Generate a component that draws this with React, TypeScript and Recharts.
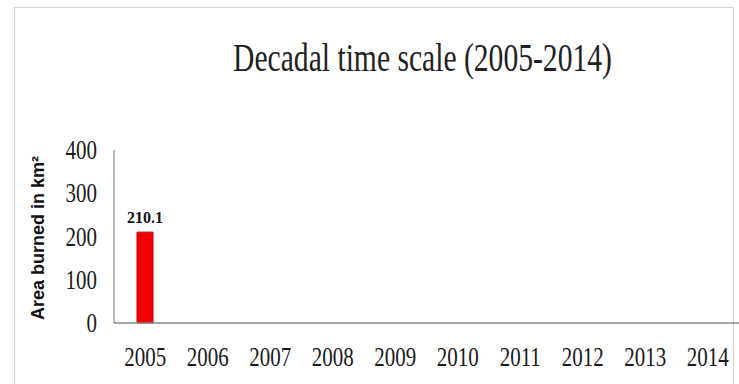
import React from "react";
import { BarChart, Bar, XAxis, YAxis, LabelList } from "recharts";

// yearly burned area, km²
const years = ["2005", "2006", "2007", "2008", "2009", "2010", "2011", "2012", "2013", "2014"];
const areaBurned = [210.1, 0, 0, 0, 0, 0, 0, 0, 0, 0];
const yTicks = [0, 100, 200, 300, 400];

const data = years.map((year, i) => ({ year, area: areaBurned[i] }));

const SERIF = '"Liberation Serif", "Times New Roman", serif';
const SANS = '"Liberation Sans", Arial, sans-serif';

// serif tick text, slightly tall and narrow like the old office charts
const XTick = ({ x, y, payload }) => (
  <g transform={`translate(${x},${y + 35}) scale(1,1.25)`}>
    <text x={0} y={0} textAnchor="middle" fontFamily={SERIF} fontSize={21} fill="#1a1a1a">
      {payload.value}
    </text>
  </g>
);

const YTick = ({ x, y, payload }) => (
  <g transform={`translate(${x - 9},${y + 9}) scale(1,1.25)`}>
    <text x={0} y={0} textAnchor="end" fontFamily={SERIF} fontSize={21} fill="#1a1a1a">
      {payload.value}
    </text>
  </g>
);

const YTitle = () => (
  <text
    x={44}
    y={238}
    transform="rotate(-90 44 238)"
    textAnchor="middle"
    fontFamily={SANS}
    fontWeight="bold"
    fontSize={18}
    fill="#111"
  >
    Area burned in km²
  </text>
);

export default function App() {
  return (
    <div
      style={{
        position: "absolute",
        left: 0,
        top: 0,
        width: 739,
        height: 384,
        overflow: "hidden",
        background: "#fff",
      }}
    >
      {/* outer frame */}
      <div
        style={{
          position: "absolute",
          left: 14,
          top: 7,
          width: 720,
          height: 420,
          border: "1px solid #d6d6d6",
          boxSizing: "border-box",
        }}
      />
      <div
        style={{
          position: "absolute",
          left: 0,
          top: 38,
          width: 845,
          textAlign: "center",
          fontFamily: SERIF,
          fontSize: 29.6,
          lineHeight: 1,
          color: "#222",
          transform: "scaleY(1.38)",
          transformOrigin: "top",
          whiteSpace: "nowrap",
        }}
      >
        Decadal time scale (2005-2014)
      </div>
      <div style={{ position: "absolute", left: 0, top: 0 }}>
        <BarChart
          width={739}
          height={384}
          data={data}
          margin={{ top: 150, right: 0, bottom: 31, left: 0 }}
          barCategoryGap={0}
        >
          <XAxis
            dataKey="year"
            tickLine={false}
            axisLine={{ stroke: "#8a8a8a", strokeWidth: 1.5 }}
            tick={<XTick />}
            interval={0}
          />
          <YAxis
            width={114}
            domain={[0, 400]}
            ticks={yTicks}
            tickLine={false}
            axisLine={{ stroke: "#8a8a8a", strokeWidth: 1.2 }}
            tick={<YTick />}
            label={<YTitle />}
          />
          <Bar dataKey="area" fill="#f20000" stroke="#c40000" strokeWidth={1} barSize={16} isAnimationActive={false}>
            <LabelList
              dataKey="area"
              position="top"
              offset={9}
              formatter={(v) => (v ? v.toFixed(1) : "")}
              style={{ fontFamily: SERIF, fontWeight: "bold", fontSize: 16, fill: "#111" }}
            />
          </Bar>
        </BarChart>
      </div>
    </div>
  );
}
